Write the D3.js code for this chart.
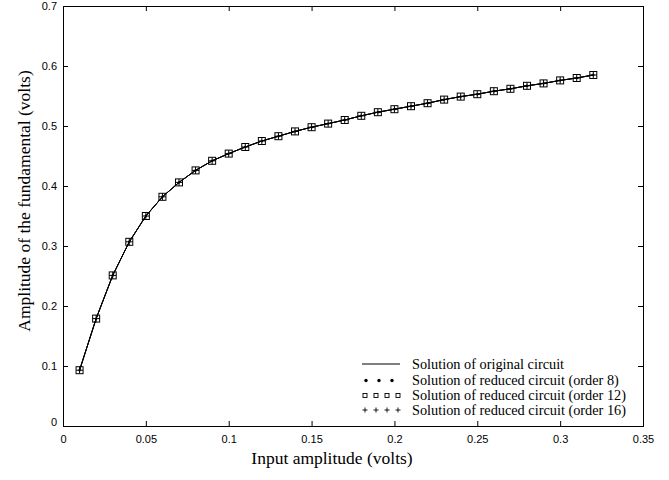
<!DOCTYPE html>
<html>
<head>
<meta charset="utf-8">
<script src="https://cdn.jsdelivr.net/npm/d3@7"></script>
<style>
body { margin: 0; background: #fff; }
svg { display: block; }
</style>
</head>
<body>
<svg width="669" height="480"></svg>
<script>
var inputAmp = [0.01, 0.02, 0.03, 0.04, 0.05, 0.06, 0.07, 0.08, 0.09, 0.10,
	0.11, 0.12, 0.13, 0.14, 0.15, 0.16, 0.17, 0.18, 0.19, 0.20,
	0.21, 0.22, 0.23, 0.24, 0.25, 0.26, 0.27, 0.28, 0.29, 0.30, 0.31, 0.32];
var original = [0.093, 0.179, 0.251, 0.307, 0.350, 0.382, 0.406, 0.426, 0.442, 0.454,
	0.465, 0.475, 0.483, 0.491, 0.498, 0.504, 0.510, 0.517, 0.523, 0.528,
	0.533, 0.538, 0.544, 0.549, 0.553, 0.558, 0.562, 0.567, 0.571, 0.576, 0.580, 0.585];
var order8 = original.slice();
var order12 = original.slice();
var order16 = original.slice();
var xTicks = [0, 0.05, 0.1, 0.15, 0.2, 0.25, 0.3, 0.35];
var yTicks = [0, 0.1, 0.2, 0.3, 0.4, 0.5, 0.6, 0.7];
var legendLabels = ['Solution of original circuit',
	'Solution of reduced circuit (order 8)',
	'Solution of reduced circuit (order 12)',
	'Solution of reduced circuit (order 16)'];

var svg = d3.select('svg');
var margin = { top: 6, right: 26, bottom: 54, left: 63 };
var width = +svg.attr('width') - margin.left - margin.right;
var height = +svg.attr('height') - margin.top - margin.bottom;
var g = svg.append('g').attr('transform', `translate(${margin.left}, ${margin.top})`);

var x = d3.scaleLinear().domain([0, 0.35]).range([0, width]);
var y = d3.scaleLinear().domain([0, 0.7]).range([height, 0]);
var fmt = function (d) { return d3.format('~g')(d); };

// frame with inward ticks on all sides
function box(sel, axis, tr) {
	sel.attr('transform', tr).call(axis);
	sel.select('.domain').attr('stroke', '#000');
	sel.selectAll('.tick line').attr('stroke', '#000');
}
g.append('g').attr('class', 'xb').call(box, d3.axisBottom(x).tickValues(xTicks).tickSize(-5).tickPadding(9).tickFormat(fmt), `translate(0,${height})`);
g.append('g').attr('class', 'yl').call(box, d3.axisLeft(y).tickValues(yTicks).tickSize(-5).tickPadding(6).tickFormat(fmt), 'translate(0,0)');
g.append('g').call(box, d3.axisTop(x).tickValues(xTicks).tickSize(-5).tickFormat(''), 'translate(0,0)');
g.append('g').call(box, d3.axisRight(y).tickValues(yTicks).tickSize(-5).tickFormat(''), `translate(${width},0)`);
g.selectAll('.tick text').attr('font-family', 'Liberation Sans, Arial, sans-serif').attr('font-size', 11).attr('fill', '#000');
g.select('.yl').selectAll('.tick text').filter(function (d) { return d === 0; }).attr('dy', '-0.05em');

var line = d3.line().x(function (d, i) { return x(inputAmp[i]); }).y(function (d) { return y(d); });
[order8, order12, order16].forEach(function (s) {
	g.append('path').datum(s).attr('d', line).attr('fill', 'none').attr('stroke', '#000').attr('stroke-width', 0.8);
});
g.append('path').datum(original).attr('d', line).attr('fill', 'none').attr('stroke', '#000').attr('stroke-width', 1);

g.selectAll('.dot8').data(order8).enter().append('circle')
	.attr('cx', function (d, i) { return x(inputAmp[i]); }).attr('cy', y).attr('r', 1.2).attr('fill', '#000');
g.selectAll('.sq12').data(order12).enter().append('rect')
	.attr('x', function (d, i) { return x(inputAmp[i]) - 3.5; }).attr('y', function (d) { return y(d) - 3.5; })
	.attr('width', 7).attr('height', 7).attr('fill', 'none').attr('stroke', '#000').attr('stroke-width', 1);
g.selectAll('.pl16').data(order16).enter().append('path')
	.attr('d', function (d, i) {
		var cx = x(inputAmp[i]), cy = y(d);
		return `M${cx - 3.5},${cy}H${cx + 3.5}M${cx},${cy - 3.5}V${cy + 3.5}`;
	}).attr('stroke', '#000').attr('stroke-width', 1);

// legend
var lg = svg.append('g').attr('transform', 'translate(362,364)');
var rowY = [0, 16.5, 31.5, 46];
lg.append('line').attr('x1', 0).attr('x2', 38).attr('y1', rowY[0]).attr('y2', rowY[0]).attr('stroke', '#000');
lg.selectAll('.ld').data([4, 17, 30]).enter().append('circle')
	.attr('cx', function (d) { return d; }).attr('cy', rowY[1]).attr('r', 1.7).attr('fill', '#000');
lg.selectAll('.ls').data([3, 14, 25, 36]).enter().append('rect')
	.attr('x', function (d) { return d - 2; }).attr('y', rowY[2] - 2).attr('width', 4).attr('height', 4)
	.attr('fill', 'none').attr('stroke', '#000').attr('stroke-width', 0.9);
lg.selectAll('.lp').data([3, 14, 25, 36]).enter().append('path')
	.attr('d', function (d) { return `M${d - 2.5},${rowY[3]}H${d + 2.5}M${d},${rowY[3] - 2.5}V${rowY[3] + 2.5}`; })
	.attr('stroke', '#000').attr('stroke-width', 0.9);
lg.selectAll('.lt').data(legendLabels).enter().append('text')
	.attr('x', 50).attr('y', function (d, i) { return rowY[i]; }).attr('dy', '0.32em')
	.attr('font-family', 'Liberation Serif, Times New Roman, serif').attr('font-size', 14.3)
	.text(function (d) { return d; });

// axis titles
svg.append('text').attr('x', margin.left + width / 2 - 21).attr('y', 464)
	.attr('text-anchor', 'middle').attr('font-family', 'Liberation Serif, Times New Roman, serif').attr('font-size', 17.5)
	.text('Input amplitude (volts)');
svg.append('text').attr('transform', `translate(30,${margin.top + height / 2 - 15}) rotate(-90)`)
	.attr('text-anchor', 'middle').attr('font-family', 'Liberation Serif, Times New Roman, serif').attr('font-size', 17.5)
	.text('Amplitude of the fundamental (volts)');
</script>
</body>
</html>
